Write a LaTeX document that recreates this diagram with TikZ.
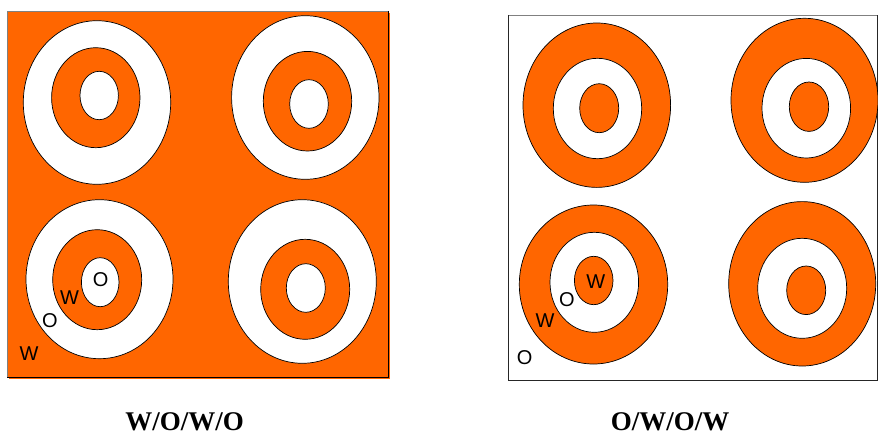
\documentclass[tikz,border=0pt]{standalone}
\usepackage{fontspec}
\setmainfont{Liberation Serif}
\newfontfamily\lblfont{Liberation Sans}
\definecolor{org}{RGB}{255,102,0}
\tikzset{
  ring/.style={draw=black,line width=0.7pt},
  lbl/.style={font=\lblfont\fontsize{20}{20}\selectfont,inner sep=0pt},
  ttl/.style={font=\fontsize{27}{27}\selectfont\bfseries,inner sep=0pt,anchor=base,text depth=0pt}
}
\begin{document}
\begin{tikzpicture}[x=1pt,y=-1pt]
\useasboundingbox (0,0) rectangle (878,436);
% ---------- left panel ----------
\fill[org] (9,13) rectangle (390,379);
\fill[org] (7,11) rectangle (388,377);
\draw[black!50,line width=0.8pt] (7,377) -- (7,11) -- (388,11);
\draw[black,line width=0.8pt] (388,11) -- (388,377) -- (7,377);
% TL
\filldraw[ring,fill=white] (97,102.5) ellipse [x radius=73.7pt,y radius=81.8pt];
\filldraw[ring,fill=org] (95.8,97.7) ellipse [x radius=44.2pt,y radius=50pt];
\filldraw[ring,fill=white] (99.2,95.5) ellipse [x radius=19.2pt,y radius=24.2pt];
% TR
\filldraw[ring,fill=white] (305.3,97.5) ellipse [x radius=73.7pt,y radius=81.8pt];
\filldraw[ring,fill=org] (307.5,101.2) ellipse [x radius=44.2pt,y radius=49.8pt];
\filldraw[ring,fill=white] (309,104) ellipse [x radius=19.3pt,y radius=24.3pt];
% BL
\filldraw[ring,fill=white] (99.5,279.2) ellipse [x radius=73.5pt,y radius=79.5pt];
\filldraw[ring,fill=org] (97.2,279.7) ellipse [x radius=44.5pt,y radius=50pt];
\filldraw[ring,fill=white] (100.2,282.2) ellipse [x radius=18.8pt,y radius=24.5pt];
% BR
\filldraw[ring,fill=white] (302.3,281.5) ellipse [x radius=74pt,y radius=81.8pt];
\filldraw[ring,fill=org] (305.2,289.3) ellipse [x radius=44.5pt,y radius=50pt];
\filldraw[ring,fill=white] (305.8,288) ellipse [x radius=19.5pt,y radius=24.3pt];
% labels
\node[lbl] (lw1) at (29,353.5) {W};
\node[lbl] (lo1) at (50,320.5) {O};
\node[lbl] (lw2) at (69.5,297.5) {W};
\node[lbl] (lo2) at (100.7,280) {O};
\node[ttl] (lt) at (184.7,430) {W/O/W/O};
% ---------- right panel ----------
\fill[white] (508.3,15) rectangle (877.5,380.3);
\draw[black!50,line width=0.8pt] (508.3,15) -- (877.5,15);
\draw[black!85,line width=0.8pt] (508.3,15) -- (508.3,380.3) -- (877.5,380.3) -- (877.5,15);
% TL
\filldraw[ring,fill=org] (596.8,105.2) ellipse [x radius=73.8pt,y radius=82.2pt];
\filldraw[ring,fill=white] (597.5,108.5) ellipse [x radius=44.2pt,y radius=50.2pt];
\filldraw[ring,fill=org] (599.2,108.2) ellipse [x radius=19.5pt,y radius=24.5pt];
% TR
\filldraw[ring,fill=org] (804.5,100.3) ellipse [x radius=73.5pt,y radius=82pt];
\filldraw[ring,fill=white] (806.3,108.2) ellipse [x radius=44.3pt,y radius=49.8pt];
\filldraw[ring,fill=org] (809,106.7) ellipse [x radius=19.7pt,y radius=24.7pt];
% BL
\filldraw[ring,fill=org] (593.5,284.5) ellipse [x radius=74.2pt,y radius=79.5pt];
\filldraw[ring,fill=white] (594.3,282.3) ellipse [x radius=44.3pt,y radius=50pt];
\filldraw[ring,fill=org] (593.7,280.5) ellipse [x radius=19.3pt,y radius=24.2pt];
% BR
\filldraw[ring,fill=org] (802.2,283.8) ellipse [x radius=73.5pt,y radius=82.2pt];
\filldraw[ring,fill=white] (802.2,288.3) ellipse [x radius=44.5pt,y radius=50pt];
\filldraw[ring,fill=org] (806.2,290.3) ellipse [x radius=19.5pt,y radius=24.3pt];
% labels
\node[lbl] (rw1) at (595.7,281.7) {W};
\node[lbl] (ro1) at (567,300) {O};
\node[lbl] (rw2) at (545,321) {W};
\node[lbl] (ro2) at (524.7,357.3) {O};
\node[ttl] (rt) at (670,430) {O/W/O/W};
\end{tikzpicture}
\end{document}
